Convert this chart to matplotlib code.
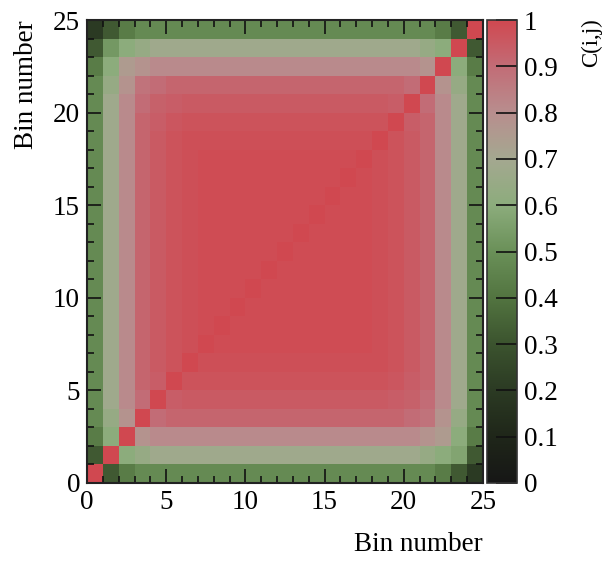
import numpy as np
import matplotlib
matplotlib.use("Agg")
import matplotlib.pyplot as plt
from matplotlib.colors import LinearSegmentedColormap
from matplotlib.ticker import MultipleLocator

plt.rcParams['font.family'] = ['Liberation Serif', 'DejaVu Serif']

# Correlation matrix C(i,j), rows = y bin (0 at bottom), columns = x bin
corr_rows = [
    [1.00, .32, .43, .48, .48, .48, .48, .48, .48, .48, .48, .48, .48, .48, .48, .48, .48, .48, .48, .48, .48, .48, .43, .32, .20],
    [.32, 1.00, .60, .64, .68, .68, .68, .68, .68, .68, .68, .68, .68, .68, .68, .68, .68, .68, .68, .68, .68, .64, .60, .57, .32],
    [.43, .60, 1.00, .78, .81, .81, .81, .81, .81, .81, .81, .81, .81, .81, .81, .81, .81, .81, .81, .81, .81, .78, .75, .60, .43],
    [.48, .64, .78, 1.00, .90, .92, .92, .92, .92, .92, .92, .92, .92, .92, .92, .92, .92, .92, .92, .92, .90, .88, .78, .64, .48],
    [.48, .68, .81, .90, 1.00, .94, .95, .95, .95, .95, .95, .95, .95, .95, .95, .95, .95, .95, .95, .94, .93, .90, .81, .68, .48],
    [.48, .68, .81, .92, .94, 1.00, .97, .97, .97, .97, .97, .97, .97, .97, .97, .97, .97, .97, .97, .96, .94, .92, .81, .68, .48],
    [.48, .68, .81, .92, .95, .97, 1.00, .98, .98, .98, .98, .98, .98, .98, .98, .98, .98, .98, .98, .97, .95, .92, .81, .68, .48],
    [.48, .68, .81, .92, .95, .97, .98, 1.00, .99, .99, .99, .99, .99, .99, .99, .99, .99, .99, .98, .97, .95, .92, .81, .68, .48],
    [.48, .68, .81, .92, .95, .97, .98, .99, 1.00, .99, .99, .99, .99, .99, .99, .99, .99, .99, .98, .97, .95, .92, .81, .68, .48],
    [.48, .68, .81, .92, .95, .97, .98, .99, .99, 1.00, .99, .99, .99, .99, .99, .99, .99, .99, .98, .97, .95, .92, .81, .68, .48],
    [.48, .68, .81, .92, .95, .97, .98, .99, .99, .99, 1.00, .99, .99, .99, .99, .99, .99, .99, .98, .97, .95, .92, .81, .68, .48],
    [.48, .68, .81, .92, .95, .97, .98, .99, .99, .99, .99, 1.00, .99, .99, .99, .99, .99, .99, .98, .97, .95, .92, .81, .68, .48],
    [.48, .68, .81, .92, .95, .97, .98, .99, .99, .99, .99, .99, 1.00, .99, .99, .99, .99, .99, .98, .97, .95, .92, .81, .68, .48],
    [.48, .68, .81, .92, .95, .97, .98, .99, .99, .99, .99, .99, .99, 1.00, .99, .99, .99, .99, .98, .97, .95, .92, .81, .68, .48],
    [.48, .68, .81, .92, .95, .97, .98, .99, .99, .99, .99, .99, .99, .99, 1.00, .99, .99, .99, .98, .97, .95, .92, .81, .68, .48],
    [.48, .68, .81, .92, .95, .97, .98, .99, .99, .99, .99, .99, .99, .99, .99, 1.00, .99, .99, .98, .97, .95, .92, .81, .68, .48],
    [.48, .68, .81, .92, .95, .97, .98, .99, .99, .99, .99, .99, .99, .99, .99, .99, 1.00, .99, .98, .97, .95, .92, .81, .68, .48],
    [.48, .68, .81, .92, .95, .97, .98, .99, .99, .99, .99, .99, .99, .99, .99, .99, .99, 1.00, .98, .97, .95, .92, .81, .68, .48],
    [.48, .68, .81, .92, .95, .97, .98, .98, .98, .98, .98, .98, .98, .98, .98, .98, .98, .98, 1.00, .97, .95, .92, .81, .68, .48],
    [.48, .68, .81, .92, .94, .96, .97, .97, .97, .97, .97, .97, .97, .97, .97, .97, .97, .97, .97, 1.00, .94, .92, .81, .68, .48],
    [.48, .68, .81, .90, .93, .94, .95, .95, .95, .95, .95, .95, .95, .95, .95, .95, .95, .95, .95, .94, 1.00, .90, .81, .68, .48],
    [.48, .64, .78, .88, .90, .92, .92, .92, .92, .92, .92, .92, .92, .92, .92, .92, .92, .92, .92, .92, .90, 1.00, .78, .64, .48],
    [.43, .60, .75, .78, .81, .81, .81, .81, .81, .81, .81, .81, .81, .81, .81, .81, .81, .81, .81, .81, .81, .78, 1.00, .60, .43],
    [.32, .53, .60, .64, .68, .68, .68, .68, .68, .68, .68, .68, .68, .68, .68, .68, .68, .68, .68, .68, .68, .64, .60, 1.00, .32],
    [.20, .32, .43, .48, .48, .48, .48, .48, .48, .48, .48, .48, .48, .48, .48, .48, .48, .48, .48, .48, .48, .48, .43, .32, 1.00],
]
bin_edges = np.arange(0, 26)
axis_ticks = [0, 5, 10, 15, 20, 25]
cbar_ticks = [0, 0.1, 0.2, 0.3, 0.4, 0.5, 0.6, 0.7, 0.8, 0.9, 1]
cbar_ticklabels = ["0", "0.1", "0.2", "0.3", "0.4", "0.5", "0.6", "0.7", "0.8", "0.9", "1"]

corr = np.array(corr_rows)

# black -> green -> grey -> red palette
palette = LinearSegmentedColormap.from_list("corr_palette", [
    (0.00, "#161616"),
    (0.10, "#1f2619"),
    (0.20, "#2b3a23"),
    (0.30, "#3b532e"),
    (0.40, "#527440"),
    (0.50, "#6a9058"),
    (0.60, "#8cac7c"),
    (0.70, "#a4a890"),
    (0.80, "#b88e8e"),
    (0.90, "#c26c76"),
    (1.00, "#d04850"),
], N=1024)

W, H = 606, 563
FS = 19.5
fig = plt.figure(figsize=(W / 100, H / 100), dpi=100)
ax = fig.add_axes([87 / W, 1 - 483 / H, 396 / W, 463 / H])
cax = fig.add_axes([487 / W, 1 - 483 / H, 30 / W, 463 / H])

mesh = ax.pcolormesh(bin_edges, bin_edges, corr, cmap=palette, vmin=0, vmax=1,
                     edgecolors='none', linewidth=0)
ax.set_xlim(0, 25)
ax.set_ylim(0, 25)
ax.set_xticks(axis_ticks)
ax.set_yticks(axis_ticks)
ax.xaxis.set_minor_locator(MultipleLocator(1))
ax.yaxis.set_minor_locator(MultipleLocator(1))
ax.tick_params(which='both', direction='in', top=True, right=True,
               color='#111111', width=1.2, labelsize=FS)
ax.tick_params(which='major', length=10, pad=5)
ax.tick_params(which='minor', length=5)
for sp in ax.spines.values():
    sp.set_linewidth(1.5)
    sp.set_color('#222222')

ax.set_xlabel("Bin number", fontsize=FS, loc='right', labelpad=12)
ax.set_ylabel("Bin number", fontsize=FS, loc='top', labelpad=10)

cb = fig.colorbar(mesh, cax=cax, ticks=cbar_ticks)
cb.set_ticklabels(cbar_ticklabels)
cb.outline.set_linewidth(1.2)
cb.outline.set_edgecolor('#333333')
cax.tick_params(direction='in', length=15, width=1.2, color='#111111',
                labelsize=FS, pad=5, right=True, left=False)
fig.text(592 / W, 1 - 18 / H, "C(i,j)", rotation=90, fontsize=16.5,
         ha='center', va='top')

fig.savefig("out.png", dpi=100)
